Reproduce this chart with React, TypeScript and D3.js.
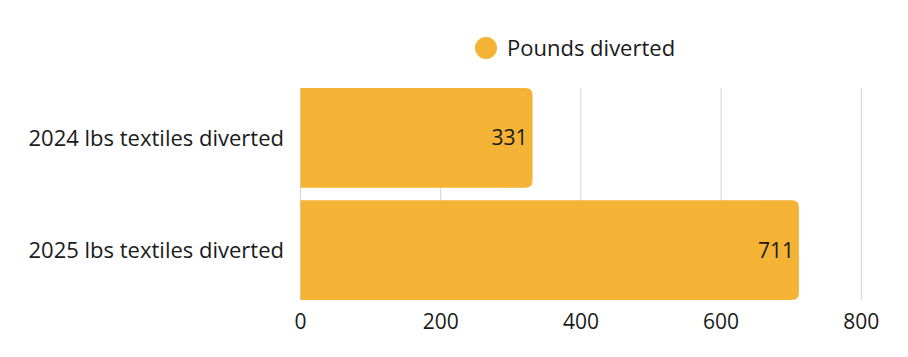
import React from "react";
import * as d3 from "d3";

const categories = ["2024 lbs textiles diverted", "2025 lbs textiles diverted"];
const values = [331, 711];
const ticks = [0, 200, 400, 600, 800];
const seriesName = "Pounds diverted";

const W = 908;
const H = 357;
const FONT = "'Open Sans', sans-serif";
const COLOR = "#F5B335";

function roundedRightRect(x: number, y: number, w: number, h: number, r: number) {
  const rr = Math.min(r, w, h / 2);
  return `M${x},${y}H${x + w - rr}Q${x + w},${y} ${x + w},${y + rr}V${y + h - rr}Q${x + w},${y + h} ${x + w - rr},${y + h}H${x}Z`;
}

export default function App() {
  const x = d3.scaleLinear().domain([0, 800]).range([300.5, 861.3]);
  const y = d3.scaleBand<string>().domain(categories).range([88, 300]).paddingInner(0.113).paddingOuter(0);
  const top = 88;
  const bottom = 300;
  return (
    <svg width={W} height={H} style={{ position: "absolute", left: 0, top: 0, background: "#fff" }} fontFamily={FONT}>
      {ticks.map((t) => (
        <line key={"g" + t} x1={x(t)} x2={x(t)} y1={top} y2={bottom} stroke="#d4d4d4" strokeWidth={1} />
      ))}
      {categories.map((c, i) => (
        <path key={"b" + c} d={roundedRightRect(x(0), y(c)!, x(values[i]) - x(0), y.bandwidth(), 7)} fill={COLOR} />
      ))}
      {categories.map((c, i) => (
        <text key={"v" + c} x={x(values[i]) - 5} y={y(c)! + y.bandwidth() / 2} dy="0.35em" textAnchor="end" fontSize={21} fill="#1a1a1a">
          {values[i]}
        </text>
      ))}
      {categories.map((c) => (
        <text key={"l" + c} x={284} y={y(c)! + y.bandwidth() / 2} dy="0.35em" textAnchor="end" fontSize={22} fill="#1a1a1a">
          {c}
        </text>
      ))}
      {ticks.map((t) => (
        <text key={"t" + t} x={x(t)} y={328.5} textAnchor="middle" fontSize={21} fill="#1a1a1a">
          {t}
        </text>
      ))}
      <circle cx={486} cy={48} r={11} fill={COLOR} />
      <text x={507} y={48} dy="0.35em" fontSize={22} fill="#1a1a1a">{seriesName}</text>
    </svg>
  );
}
